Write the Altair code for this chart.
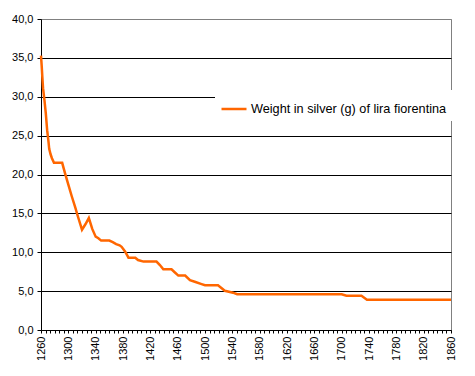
import altair as alt
import pandas as pd

years = [1260, 1261, 1262, 1263, 1265, 1267, 1269, 1271, 1272, 1274, 1276, 1279,
         1291, 1295, 1300, 1305, 1310, 1314, 1320, 1325, 1330, 1335, 1340, 1344,
         1348, 1360, 1365, 1370, 1375, 1378, 1383, 1388, 1398, 1402, 1410, 1429,
         1434, 1439, 1451, 1456, 1461, 1471, 1478, 1485, 1495, 1500, 1519, 1524,
         1529, 1541, 1547, 1700, 1707, 1729, 1737, 1860]
weights = [35.3, 34.0, 32.5, 31.1, 29.6, 27.9, 25.7, 24.2, 23.3, 22.6, 22.1, 21.5,
           21.5, 20.2, 18.7, 17.2, 15.8, 14.6, 12.9, 13.6, 14.4, 13.0, 12.0, 11.8,
           11.5, 11.5, 11.3, 11.05, 10.9, 10.7, 10.1, 9.3, 9.3, 9.0, 8.8, 8.8,
           8.35, 7.8, 7.8, 7.4, 7.0, 7.0, 6.4, 6.2, 5.9, 5.75, 5.75, 5.4,
           5.05, 4.8, 4.6, 4.6, 4.4, 4.4, 3.9, 3.9]
series_name = "Weight in silver (g) of lira fiorentina"

y_ticks = [0, 5, 10, 15, 20, 25, 30, 35, 40]
x_ticks = [1260 + k * 20 / 3 for k in range(91)]

df = pd.DataFrame({"year": years, "weight": weights, "series": series_name})

FONT = "Liberation Sans"

chart = alt.Chart(df).mark_line(strokeWidth=2.5, interpolate="linear").encode(
    x=alt.X("year:Q",
            scale=alt.Scale(domain=[1260, 1860], nice=False, zero=False),
            axis=alt.Axis(title=None, values=x_ticks, grid=False,
                          labelAngle=270, labelAlign="right", labelBaseline="middle",
                          labelExpr="(round(datum.value) % 40 == 20 && abs(datum.value - round(datum.value)) < 0.01) ? '' + round(datum.value) : ''",
                          labelOverlap=False, labelPadding=3, tickSize=3,
                          tickColor="black", domainColor="black",
                          labelFont=FONT, labelFontSize=11, labelColor="black")),
    y=alt.Y("weight:Q",
            scale=alt.Scale(domain=[0, 40], nice=False),
            axis=alt.Axis(title=None, values=y_ticks, grid=True,
                          gridColor=alt.condition("datum.value == 40", alt.value("#808080"), alt.value("black")),
                          gridOpacity=1, gridWidth=1,
                          labelExpr="replace(format(datum.value, '.1f'), '.', ',')",
                          tickSize=4, tickColor="black", domainColor="black",
                          labelPadding=4, labelFont=FONT, labelFontSize=11,
                          labelColor="black")),
    color=alt.Color("series:N",
                    scale=alt.Scale(range=["#FF6600"]),
                    legend=alt.Legend(title=None, orient="none", legendX=174, legendY=71,
                                      symbolType="stroke", symbolSize=625,
                                      symbolStrokeWidth=2.5, fillColor="white",
                                      padding=5, labelFont=FONT, labelFontSize=12.7,
                                      labelColor="black", labelOffset=3,
                                      labelLimit=400)),
).properties(
    width=410, height=311,
    autosize=alt.AutoSizeParams(type="none"),
    padding={"left": 33, "top": 11, "right": 16, "bottom": 30},
).configure_view(stroke="#808080", strokeWidth=1)

chart.save("out.html", embed_options={"renderer": "svg", "actions": False})
